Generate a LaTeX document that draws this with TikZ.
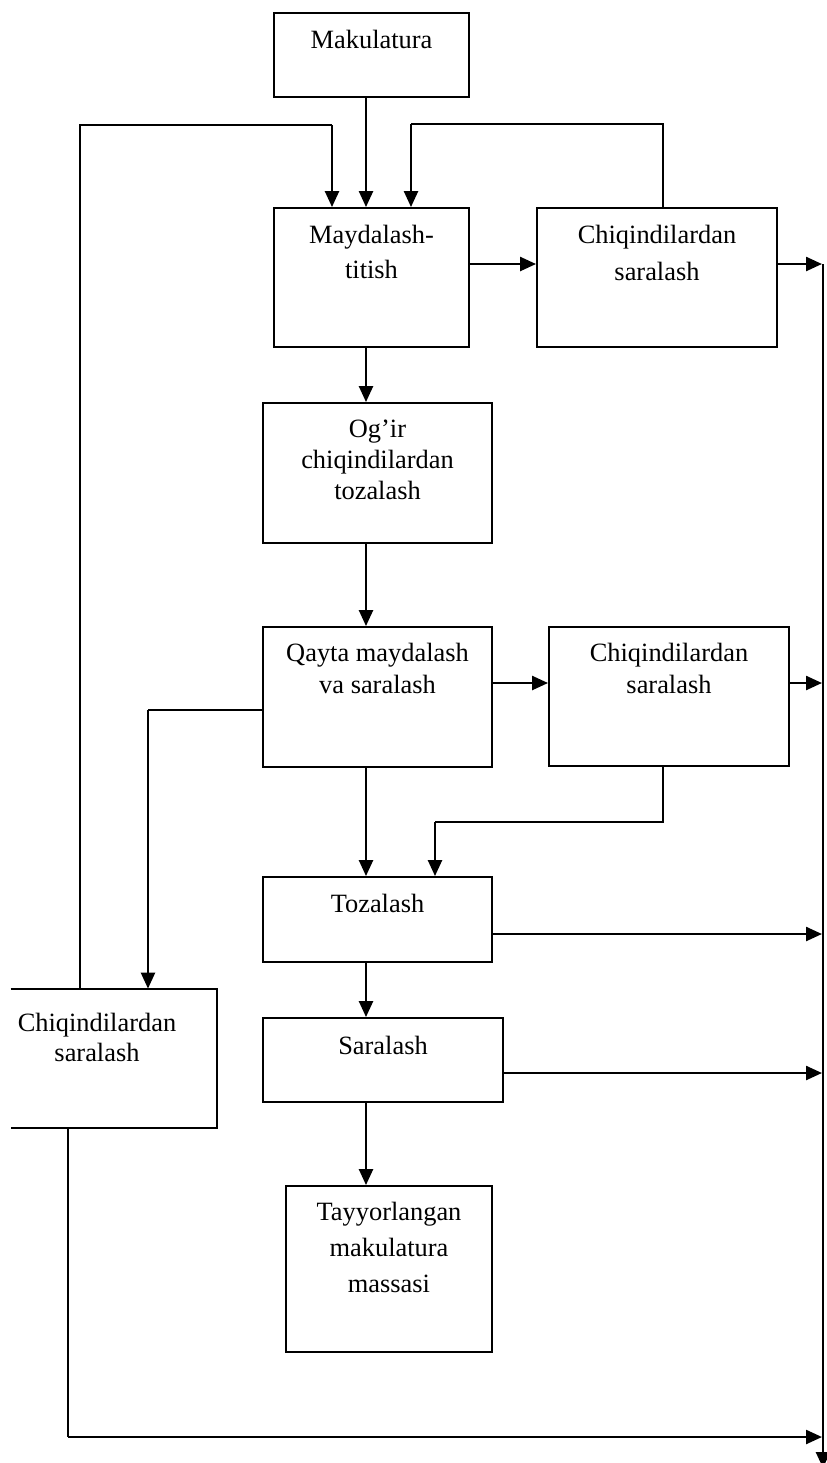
\documentclass[tikz,border=0pt]{standalone}
\usepackage{fontspec}
\setmainfont{Liberation Serif}
\usetikzlibrary{arrows.meta}

\begin{document}
\begin{tikzpicture}[x=0.5pt,y=-0.5pt]
  \tikzstyle{box}=[rectangle, draw=black, line width=0.95pt, inner sep=0pt]
  \tikzstyle{openbox}=[rectangle, inner sep=0pt]
  \tikzstyle{txt}=[anchor=north, align=center, inner sep=0pt, font=\fontsize{13.2}{16}\selectfont]
  \tikzstyle{connect}=[-{Triangle[length=8pt,width=7pt]}, line width=1.2pt]
  \tikzstyle{link}=[line width=0.8pt]
  \tikzstyle{bus}=[-{Triangle[length=8pt,width=7pt]}, line width=1.3pt]

  \useasboundingbox (0,0) rectangle (826,1463);

  % boxes
  \node[box, minimum width=97.5pt, minimum height=42pt] (mak) at (371.5,55) {};
  \node[box, minimum width=97.5pt, minimum height=69.5pt] (mayd) at (371.5,277.5) {};
  \node[box, minimum width=120pt, minimum height=69.5pt] (chiq1) at (657,277.5) {};
  \node[box, minimum width=114.5pt, minimum height=70pt] (ogir) at (377.5,473) {};
  \node[box, minimum width=114.5pt, minimum height=70pt] (qayta) at (377.5,697) {};
  \node[box, minimum width=120pt, minimum height=69.5pt] (chiq2) at (669,696.5) {};
  \node[box, minimum width=114.5pt, minimum height=42.5pt] (toz) at (377.5,919.5) {};
  \node[box, minimum width=120pt, minimum height=42pt] (sar) at (383,1060) {};
  \node[box, minimum width=103pt, minimum height=83pt] (tayy) at (389,1269) {};
  \node[openbox, minimum width=103pt, minimum height=69.5pt] (chiq3) at (114,1058.5) {};
  \draw[line width=0.95pt] (chiq3.north west) -- (chiq3.north east) -- (chiq3.south east) -- (chiq3.south west);

  % texts
  \node[txt] (makT) at (371.5,30) {Makulatura};
  \node[txt, font=\fontsize{13.2}{17.5}\selectfont] (maydT) at (371.5,225) {Maydalash-\\titish};
  \node[txt, font=\fontsize{13.2}{18.5}\selectfont] (chiq1T) at (657,225) {Chiqindilardan\\saralash};
  \node[txt, font=\fontsize{13.2}{15.5}\selectfont] (ogirT) at (377.5,420) {Og’ir\\chiqindilardan\\tozalash};
  \node[txt] (qaytaT) at (377.5,643) {Qayta maydalash\\va saralash};
  \node[txt] (chiq2T) at (669,643) {Chiqindilardan\\saralash};
  \node[txt] (tozT) at (377.5,894) {Tozalash};
  \node[txt] (sarT) at (383,1036) {Saralash};
  \node[txt, font=\fontsize{13.2}{18}\selectfont] (tayyT) at (389,1202) {Tayyorlangan\\makulatura\\massasi};
  \node[txt, font=\fontsize{13.2}{15}\selectfont] (chiq3T) at (97,1013) {Chiqindilardan\\saralash};

  % points for the connectors
  \coordinate (c) at (366,0);
  \coordinate (fbL) at (80,125);
  \coordinate (fbLin) at (332,125);
  \coordinate (fbR) at (663,124);
  \coordinate (fbRin) at (411,124);
  \coordinate (d1) at (663,822);
  \coordinate (d2) at (435,822);
  \coordinate (l1) at (148,710);
  \coordinate (l2) at (68,1437);
  \coordinate (r1) at (822,264);
  \coordinate (r2) at (822,683);
  \coordinate (r3) at (822,934);
  \coordinate (r4) at (822,1073);
  \coordinate (r5) at (822,1437);
  \coordinate (bus) at (823,264);
  \coordinate (busEnd) at (823,1468);

  % main line
  \draw[connect] (mak.south -| c) -- (mayd.north -| c);
  \draw[connect] (mayd.south -| c) -- (ogir.north -| c);
  \draw[connect] (ogir.south -| c) -- (qayta.north -| c);
  \draw[connect] (qayta.south -| c) -- (toz.north -| c);
  \draw[connect] (toz.south -| c) -- (sar.north -| c);
  \draw[connect] (sar.south -| c) -- (tayy.north -| c);

  % side branches
  \draw[connect] (mayd.east |- r1) -- (chiq1.west |- r1);
  \draw[connect] (qayta.east |- r2) -- (chiq2.west |- r2);
  \draw[link] (chiq2.south -| d1) -- (d1) -- (d2);
  \draw[connect] (d2) -- (toz.north -| d2);
  \draw[link] (qayta.west |- l1) -- (l1);
  \draw[connect] (l1) -- (chiq3.north -| l1);

  % returns to the crusher
  \draw[link] (chiq3.north -| fbL) -- (fbL) -- (fbLin);
  \draw[connect] (fbLin) -- (mayd.north -| fbLin);
  \draw[link] (chiq1.north -| fbR) -- (fbR) -- (fbRin);
  \draw[connect] (fbRin) -- (mayd.north -| fbRin);

  % waste to the right
  \draw[connect] (chiq1.east |- r1) -- (r1);
  \draw[connect] (chiq2.east |- r2) -- (r2);
  \draw[connect] (toz.east |- r3) -- (r3);
  \draw[connect] (sar.east |- r4) -- (r4);
  \draw[link] (chiq3.south -| l2) -- (l2);
  \draw[connect] (l2) -- (r5);
  \draw[bus] (bus) -- (busEnd);
\end{tikzpicture}
\end{document}
